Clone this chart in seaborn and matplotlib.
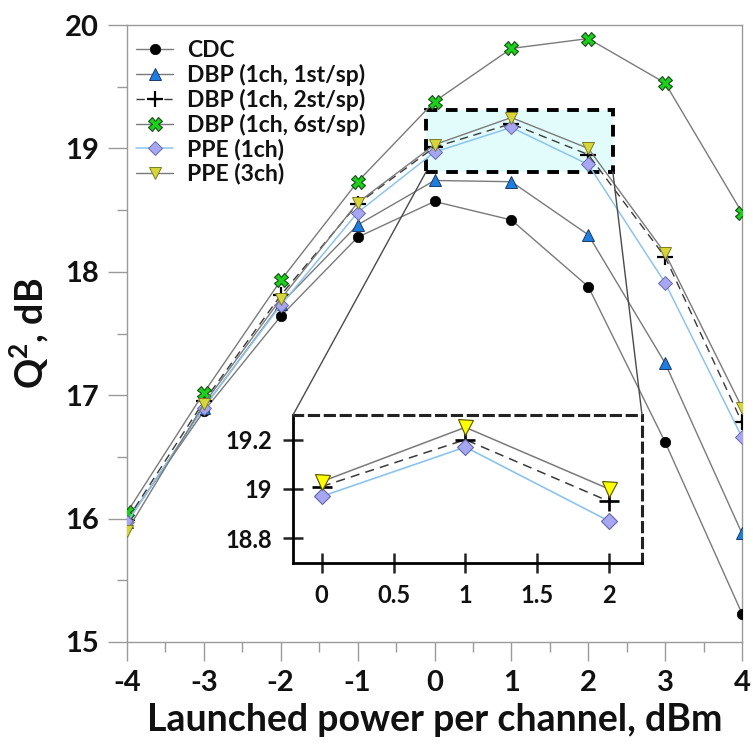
import numpy as np
import pandas as pd
import matplotlib
matplotlib.use("Agg")
import matplotlib.pyplot as plt
import seaborn as sns
from matplotlib.patches import Rectangle, ConnectionPatch
from matplotlib.ticker import MultipleLocator

sns.set_theme(style="white")
plt.rcParams['font.family'] = ['Lato', 'DejaVu Sans']
plt.rcParams['font.weight'] = 'bold'
plt.rcParams['mathtext.fontset'] = 'custom'
plt.rcParams['mathtext.rm'] = 'Lato:bold'
plt.rcParams['mathtext.bf'] = 'Lato:bold'
plt.rcParams['text.color'] = '#111111'
plt.rcParams['axes.labelcolor'] = '#111111'

# ---- data ----
power = [-4, -3, -2, -1, 0, 1, 2, 3, 4]
cdc   = [15.98, 16.87, 17.64, 18.28, 18.57, 18.42, 17.88, 16.62, 15.23]
dbp1  = [15.97, 16.90, 17.74, 18.38, 18.74, 18.73, 18.30, 17.26, 15.88]
dbp2  = [15.99, 16.95, 17.81, 18.55, 19.01, 19.20, 18.95, 18.12, 16.78]
dbp6  = [16.05, 17.02, 17.93, 18.73, 19.38, 19.81, 19.89, 19.53, 18.48]
ppe1  = [15.97, 16.90, 17.73, 18.48, 18.97, 19.17, 18.87, 17.91, 16.66]
ppe3  = [15.90, 16.93, 17.78, 18.56, 19.03, 19.25, 19.00, 18.15, 16.90]
labels = ["CDC", "DBP (1ch, 1st/sp)", "DBP (1ch, 2st/sp)", "DBP (1ch, 6st/sp)",
          "PPE (1ch)", "PPE (3ch)"]
x_ticks = [-4, -3, -2, -1, 0, 1, 2, 3, 4]
y_ticks = [15, 16, 17, 18, 19, 20]
inset_x_ticks = [0, 0.5, 1, 1.5, 2]
inset_y_ticks = [18.8, 19.0, 19.2]
inset_y_ticklabels = ["18.8", "19", "19.2"]
zoom_box = (-0.11, 18.81, 2.32, 19.31)  # x0, y0, x1, y1

W, H = 753, 749
fig = plt.figure(figsize=(W / 100, H / 100), dpi=100)
ax = fig.add_axes([127 / W, 1 - 642 / H, (742 - 127) / W, (642 - 25) / H])

grey = '#7a7a7a'
styles = [
    dict(series=cdc, color=grey, marker='o', ms=7.5, mfc='black', mec='black', mew=0.5, ls='-', lw=1.0),
    dict(series=dbp1, color=grey, marker='^', ms=9, mfc='#1e7ee0', mec='#1a3a66', mew=0.7, ls='-', lw=1.0),
    dict(series=dbp2, color='#3a3a3a', marker='+', ms=12, mfc='black', mec='black', mew=1.6, ls=(0, (6, 4)), lw=1.0),
    dict(series=dbp6, color=grey, marker='X', ms=10, mfc='#19d219', mec='#1c4a1c', mew=0.8, ls='-', lw=1.0),
    dict(series=ppe1, color='#8cc4ee', marker='D', ms=7, mfc='#a6a6f2', mec='#6a6aa8', mew=0.7, ls='-', lw=1.1),
    dict(series=ppe3, color=grey, marker='v', ms=9, mfc='#d6d63c', mec='#7c7c20', mew=0.7, ls='-', lw=1.0),
]

rx0, ry0, rx1, ry1 = zoom_box
ax.add_patch(Rectangle((rx0, ry0), rx1 - rx0, ry1 - ry0, facecolor='#e2fcfc',
                       edgecolor='black', lw=2.8, ls=(0, (3, 2.2)), zorder=1))

for lab, st in zip(labels, styles):
    df = pd.DataFrame({'x': power, 'y': st['series']})
    sns.lineplot(data=df, x='x', y='y', ax=ax, label=lab, color=st['color'],
                 marker=st['marker'], markersize=st['ms'], markerfacecolor=st['mfc'],
                 markeredgecolor=st['mec'], markeredgewidth=st['mew'],
                 linestyle=st['ls'], linewidth=st['lw'], zorder=3)

ax.set_xlim(-4, 4)
ax.set_ylim(15, 20)
ax.set_xticks(x_ticks)
ax.set_yticks(y_ticks)
ax.set_xticklabels([str(v) for v in x_ticks])
ax.xaxis.set_minor_locator(MultipleLocator(0.5))
ax.yaxis.set_minor_locator(MultipleLocator(0.5))
for s in ax.spines.values():
    s.set_color('#9a9a9a')
    s.set_linewidth(1.0)
ax.tick_params(axis='both', which='major', direction='out', length=14, width=1.0,
               color='#9a9a9a', labelcolor='#111111', labelsize=21, pad=6,
               bottom=True, left=True)
ax.tick_params(axis='both', which='minor', direction='out', length=7, width=1.0,
               color='#9a9a9a', bottom=True, left=True)
for t in ax.get_xticklabels() + ax.get_yticklabels():
    t.set_fontweight('bold')
ax.set_xlabel("Launched power per channel, dBm", fontsize=27, fontweight='bold', labelpad=5)
ax.set_ylabel(r"Q$^{\mathbf{2}}$, dB", fontsize=27, fontweight='bold', labelpad=10)

leg = ax.legend(loc='upper left', bbox_to_anchor=(0.015, 0.975), frameon=False,
                fontsize=16.5, handlelength=1.6, handletextpad=0.6, labelspacing=0.12,
                borderpad=0, borderaxespad=0)
for t in leg.get_texts():
    t.set_fontweight('bold')
    t.set_color('#111111')

# ---- inset ----
axins = fig.add_axes([293 / W, 1 - 563 / H, (642 - 293) / W, (563 - 415) / H])
axins.set_facecolor('white')
inset_idx = [power.index(v) for v in (0, 1, 2)]
for k in (2, 4, 5):
    st = styles[k]
    df = pd.DataFrame({'x': [power[i] for i in inset_idx],
                       'y': [st['series'][i] for i in inset_idx]})
    mfc = '#ffff00' if k == 5 else st['mfc']
    mec = '#5a5a00' if k == 5 else st['mec']
    sns.lineplot(data=df, x='x', y='y', ax=axins, color=st['color'], marker=st['marker'],
                 markersize=st['ms'] * 1.2, markerfacecolor=mfc, markeredgecolor=mec,
                 markeredgewidth=st['mew'] * 1.2, linestyle=st['ls'], linewidth=st['lw'] * 1.1,
                 legend=False)
axins.set_xlim(-0.20, 2.23)
axins.set_ylim(18.70, 19.30)
axins.set_xticks(inset_x_ticks)
axins.set_xticklabels(["0", "0.5", "1", "1.5", "2"])
axins.set_yticks(inset_y_ticks)
axins.set_yticklabels(inset_y_ticklabels)
axins.set_xlabel("")
axins.set_ylabel("")
for side in ('left', 'bottom'):
    axins.spines[side].set_color('black')
    axins.spines[side].set_linewidth(2)
for side in ('top', 'right'):
    axins.spines[side].set_color('#222222')
    axins.spines[side].set_linewidth(2.2)
    axins.spines[side].set_linestyle((0, (3, 2.2)))
axins.tick_params(axis='both', which='major', direction='inout', length=14, width=1.8,
                  color='#222222', labelcolor='#111111', labelsize=17, pad=8,
                  bottom=True, left=True)
for t in axins.get_xticklabels() + axins.get_yticklabels():
    t.set_fontweight('bold')

for xyB, xyA in (((0, 1), (rx0, ry0)), ((1, 1), (rx1, ry0))):
    con = ConnectionPatch(xyA=xyA, coordsA=ax.transData, xyB=xyB, coordsB=axins.transAxes,
                          color='#4a4a4a', lw=1.0, zorder=5)
    fig.add_artist(con)

fig.savefig("out.png", dpi=100)
